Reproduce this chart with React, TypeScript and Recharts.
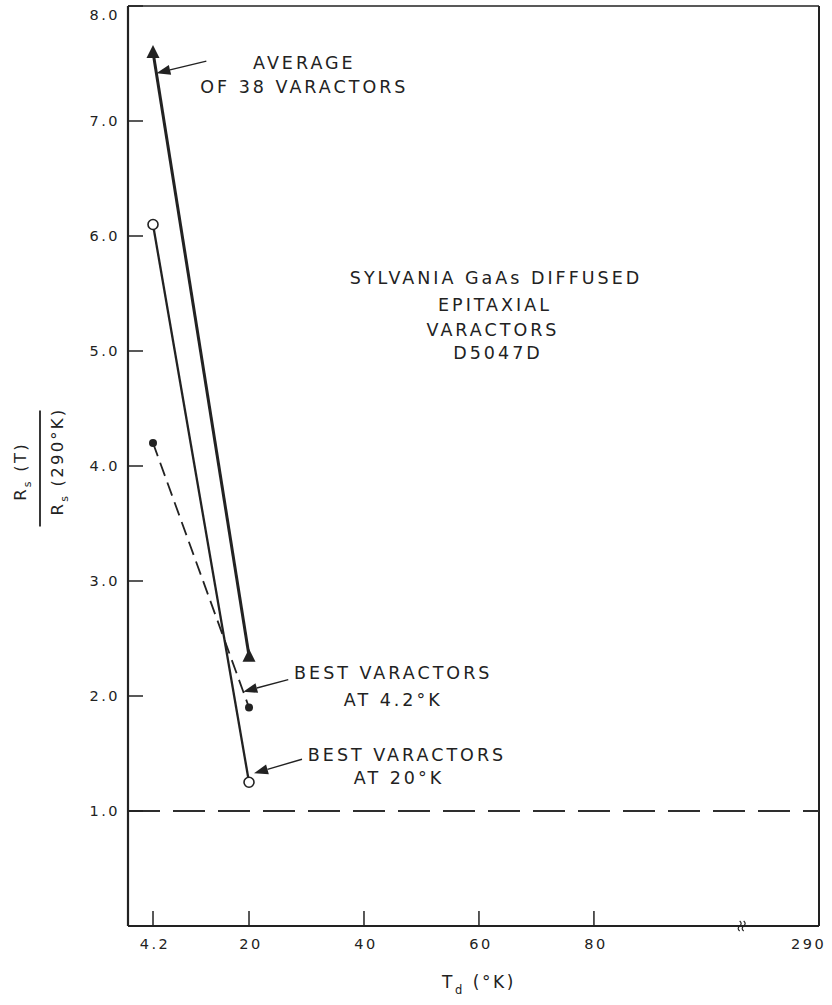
import React from 'react';
import {
  LineChart,
  Line,
  XAxis,
  YAxis,
  ReferenceLine,
  ReferenceDot,
  Customized,
} from 'recharts';

const INK = '#222';
const FONT = '"DejaVu Sans", "Liberation Sans", sans-serif';

// diode temperature Td (°K) at which the varactors were measured
const TEMPS = [4.2, 20];
// Rs(T) / Rs(290°K)
const AVERAGE_38 = [7.6, 2.35];
const BEST_AT_20K = [6.1, 1.25];
const BEST_AT_4K = [4.2, 1.9];

const X_TICKS = [4.2, 20, 40, 60, 80, 290];
const Y_TICKS = [1, 2, 3, 4, 5, 6, 7, 8];
const UNITY = 1.0;

const X_DOMAIN: [number, number] = [-1.05, 119.15];
const BREAK_AT = 105.7; // where the T axis is broken (axis units)

// the drawn T axis is not to scale: 4.2 sits near the origin and 80..290 is squeezed past the break
const toAxis = (t: number) => {
  if (t < 20) return 3.3 + ((t - 4.2) * 16.7) / 15.8;
  if (t <= 80) return t;
  return 80 + ((t - 80) * 37) / 210;
};

const toRows = (values: number[]) =>
  TEMPS.map((t, i) => ({ t, x: toAxis(t), y: values[i] }));

const avgRows = toRows(AVERAGE_38);
const best20Rows = toRows(BEST_AT_20K);
const best4Rows = toRows(BEST_AT_4K);

const along = (rows: { x: number; y: number }[], f: number) => ({
  x: rows[0].x + (rows[1].x - rows[0].x) * f,
  y: rows[0].y + (rows[1].y - rows[0].y) * f,
});

const textStyle = {
  fontFamily: FONT,
  fill: INK,
};

const NOTE_SIZE = 17.5;
const NOTE_SPACING = 3;

const XTick = (props: any) => {
  const { x, y, index } = props;
  const label = X_TICKS[index];
  return (
    <g>
      {label !== 290 && (
        <line x1={x} x2={x} y1={y} y2={y - 15} stroke={INK} strokeWidth={1.5} />
      )}
      <text x={x + 2} y={y + 23} textAnchor="middle" fontSize={14.5} letterSpacing={2.5} {...textStyle}>
        {label}
      </text>
    </g>
  );
};

const YTick = (props: any) => {
  const { x, y, payload } = props;
  const v = payload.value as number;
  return (
    <g>
      <line x1={x} x2={x + 15} y1={y} y2={y} stroke={INK} strokeWidth={1.5} />
      <text
        x={x - 8}
        y={y + 5 + (v === 8 ? 9 : 0)}
        textAnchor="end"
        fontSize={14.5}
        letterSpacing={2.5}
        {...textStyle}
      >
        {v.toFixed(1)}
      </text>
    </g>
  );
};

const Triangle = (p: any) => (
  <path
    key={`tri-${p.index}`}
    d={`M${p.cx},${p.cy - 7} L${p.cx - 6.5},${p.cy + 6} L${p.cx + 6.5},${p.cy + 6} Z`}
    fill={INK}
  />
);

const OpenDot = (p: any) => (
  <circle key={`open-${p.index}`} cx={p.cx} cy={p.cy} r={5} fill="#fff" stroke={INK} strokeWidth={1.6} />
);

const SolidDot = (p: any) => (
  <circle key={`solid-${p.index}`} cx={p.cx} cy={p.cy} r={4} fill={INK} />
);

interface CalloutProps {
  cx?: number;
  cy?: number;
  tip?: [number, number];
  tail: [number, number];
  lines: { text: React.ReactNode; dx: number; dy: number }[];
}

// arrow pointing at a curve, with its lettering
const Callout = ({ cx = 0, cy = 0, tip = [0, 0], tail, lines }: CalloutProps) => {
  const x0 = cx + tip[0];
  const y0 = cy + tip[1];
  const ang = Math.atan2(-tail[1], -tail[0]);
  const len = 14;
  const half = 5;
  const bx = x0 - len * Math.cos(ang);
  const by = y0 - len * Math.sin(ang);
  const px = -Math.sin(ang) * half;
  const py = Math.cos(ang) * half;
  return (
    <g>
      <line x1={x0 + tail[0]} y1={y0 + tail[1]} x2={bx} y2={by} stroke={INK} strokeWidth={1.4} />
      <polygon points={`${x0},${y0} ${bx + px},${by + py} ${bx - px},${by - py}`} fill={INK} />
      {lines.map((l, i) => (
        <text
          key={i}
          x={x0 + l.dx}
          y={y0 + l.dy}
          textAnchor="middle"
          fontSize={NOTE_SIZE}
          letterSpacing={NOTE_SPACING}
          {...textStyle}
        >
          {l.text}
        </text>
      ))}
    </g>
  );
};

const AxisBreak = ({ cx = 0, cy = 0 }: any) => (
  <g fill="none" stroke={INK} strokeWidth={1.2}>
    <path d={`M${cx - 2},${cy - 5} q3,2.5 0,5 q-3,2.5 0,5`} />
    <path d={`M${cx + 2},${cy - 5} q3,2.5 0,5 q-3,2.5 0,5`} />
  </g>
);

const Lettering = () => (
  <g>
    {/* device description */}
    <g textAnchor="middle" fontSize={NOTE_SIZE} letterSpacing={NOTE_SPACING} fontFamily={FONT} fill={INK}>
      <text x={496} y={284}>SYLVANIA GaAs DIFFUSED</text>
      <text x={495} y={311}>EPITAXIAL</text>
      <text x={493} y={336}>VARACTORS</text>
      <text x={498} y={359}>D5047D</text>
    </g>
    {/* y-axis title: Rs(T) / Rs(290°K) */}
    <g transform="translate(40, 468.5) rotate(-90)" fontFamily={FONT} fill={INK} fontSize={16.5} letterSpacing={2.2}>
      <line x1={-58} x2={58} y1={0} y2={0} stroke={INK} strokeWidth={1.8} />
      <text x={-3} y={-14} textAnchor="middle">
        R<tspan fontSize={11} dy={5}>s</tspan>
        <tspan dy={-5}> (T)</tspan>
      </text>
      <text x={7} y={23} textAnchor="middle">
        R<tspan fontSize={11} dy={5}>s</tspan>
        <tspan dy={-5}> (290°K)</tspan>
      </text>
    </g>
    {/* x-axis title */}
    <text x={479} y={988} textAnchor="middle" fontFamily={FONT} fill={INK} fontSize={17} letterSpacing={2.6}>
      T<tspan fontSize={11.5} dy={6}>d</tspan>
      <tspan dy={-6}> (°K)</tspan>
    </text>
  </g>
);

const avgTip = along(avgRows, 0.035);
const best4Tip = along(best4Rows, 0.94);

const App: React.FC = () => (
  <div style={{ position: 'absolute', left: 0, top: 0, background: '#fff' }}>
    <LineChart
      width={832}
      height={1005}
      margin={{ top: 6, right: 13, bottom: 49, left: 68 }}
    >
      <XAxis
        type="number"
        dataKey="x"
        domain={X_DOMAIN}
        ticks={X_TICKS.map(toAxis)}
        interval={0}
        allowDataOverflow
        tick={<XTick />}
        tickSize={0}
        tickMargin={0}
        tickLine={false}
        axisLine={{ stroke: INK, strokeWidth: 2 }}
        height={30}
      />
      <YAxis
        type="number"
        domain={[0, 8]}
        ticks={Y_TICKS}
        interval={0}
        allowDataOverflow
        tick={<YTick />}
        tickSize={0}
        tickMargin={0}
        tickLine={false}
        axisLine={{ stroke: INK, strokeWidth: 2.2 }}
        width={60}
      />
      {/* frame */}
      <ReferenceLine y={8} stroke={INK} strokeWidth={1.6} />
      <ReferenceLine x={X_DOMAIN[1]} stroke={INK} strokeWidth={2} />
      {/* Rs(T) = Rs(290°K) */}
      <ReferenceLine
        y={UNITY}
        stroke="#2e2e2e"
        strokeWidth={2}
        strokeDasharray="32 13"
      />
      <ReferenceDot
        x={BREAK_AT}
        y={0}
        r={0}
        ifOverflow="visible"
        shape={(p: any) => <AxisBreak cx={p.cx} cy={p.cy} />}
      />

      <Line
        data={best4Rows}
        dataKey="y"
        type="linear"
        stroke={INK}
        strokeWidth={1.8}
        strokeDasharray="14 7"
        dot={SolidDot}
        activeDot={false}
        isAnimationActive={false}
      />
      <Line
        data={best20Rows}
        dataKey="y"
        type="linear"
        stroke={INK}
        strokeWidth={2.3}
        dot={OpenDot}
        activeDot={false}
        isAnimationActive={false}
      />
      <Line
        data={avgRows}
        dataKey="y"
        type="linear"
        stroke={INK}
        strokeWidth={3}
        dot={Triangle}
        activeDot={false}
        isAnimationActive={false}
      />

      <ReferenceDot
        x={avgTip.x}
        y={avgTip.y}
        r={0}
        ifOverflow="visible"
        shape={(p: any) => (
          <Callout
            cx={p.cx}
            cy={p.cy}
            tail={[50, -12]}
            lines={[
              { text: 'AVERAGE', dx: 148, dy: -4 },
              { text: 'OF 38 VARACTORS', dx: 148, dy: 20 },
            ]}
          />
        )}
      />
      <ReferenceDot
        x={best4Tip.x}
        y={best4Tip.y}
        r={0}
        ifOverflow="visible"
        shape={(p: any) => (
          <Callout
            cx={p.cx}
            cy={p.cy}
            tail={[45, -12]}
            lines={[
              { text: 'BEST VARACTORS', dx: 150, dy: -13 },
              { text: 'AT 4.2°K', dx: 150, dy: 14 },
            ]}
          />
        )}
      />
      <ReferenceDot
        x={best20Rows[1].x}
        y={best20Rows[1].y}
        r={0}
        ifOverflow="visible"
        shape={(p: any) => (
          <Callout
            cx={p.cx}
            cy={p.cy}
            tip={[5, -9]}
            tail={[48, -14]}
            lines={[
              { text: 'BEST VARACTORS', dx: 153, dy: -12 },
              { text: 'AT 20°K', dx: 145, dy: 11 },
            ]}
          />
        )}
      />
      <Customized component={<Lettering />} />
    </LineChart>
  </div>
);

export default App;
